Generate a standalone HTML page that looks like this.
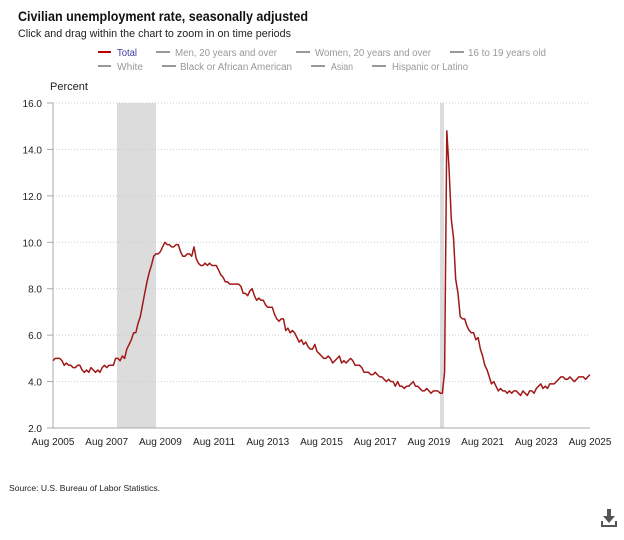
<!DOCTYPE html>
<html><head><meta charset="utf-8"><style>
body{margin:0;background:#fff;font-family:"Liberation Sans",Arial,sans-serif;}
</style></head><body>
<svg width="624" height="535" viewBox="0 0 624 535" xmlns="http://www.w3.org/2000/svg" font-family="Liberation Sans, Arial, sans-serif">
<text x="18" y="21" font-size="14" font-weight="bold" fill="#111" textLength="290" lengthAdjust="spacingAndGlyphs">Civilian unemployment rate, seasonally adjusted</text>
<text x="18" y="37" font-size="11" fill="#222" textLength="273" lengthAdjust="spacingAndGlyphs">Click and drag within the chart to zoom in on time periods</text>
<g font-size="10" fill="#999">
<line x1="98" y1="52" x2="111" y2="52" stroke="#b00" stroke-width="2"/><text x="117" y="56" fill="#3a3aa0" textLength="20" lengthAdjust="spacingAndGlyphs">Total</text>
<line x1="156" y1="52" x2="170" y2="52" stroke="#999" stroke-width="2"/><text x="175" y="56" textLength="102" lengthAdjust="spacingAndGlyphs">Men, 20 years and over</text>
<line x1="296" y1="52" x2="310" y2="52" stroke="#999" stroke-width="2"/><text x="315" y="56" textLength="116" lengthAdjust="spacingAndGlyphs">Women, 20 years and over</text>
<line x1="450" y1="52" x2="464" y2="52" stroke="#999" stroke-width="2"/><text x="468" y="56" textLength="78" lengthAdjust="spacingAndGlyphs">16 to 19 years old</text>
<line x1="98" y1="66" x2="111" y2="66" stroke="#999" stroke-width="2"/><text x="117" y="70" textLength="26" lengthAdjust="spacingAndGlyphs">White</text>
<line x1="162" y1="66" x2="176" y2="66" stroke="#999" stroke-width="2"/><text x="180" y="70" textLength="112" lengthAdjust="spacingAndGlyphs">Black or African American</text>
<line x1="311" y1="66" x2="325" y2="66" stroke="#999" stroke-width="2"/><text x="331" y="70" textLength="22" lengthAdjust="spacingAndGlyphs">Asian</text>
<line x1="372" y1="66" x2="386" y2="66" stroke="#999" stroke-width="2"/><text x="392" y="70" textLength="76" lengthAdjust="spacingAndGlyphs">Hispanic or Latino</text>
</g>
<text x="50" y="90" font-size="11" fill="#222">Percent</text>
<rect x="117" y="103" width="39" height="325" fill="#dcdcdc"/>
<rect x="440" y="103" width="4" height="325" fill="#dcdcdc"/>
<g id="grid" stroke="#ccc" stroke-dasharray="1,2"></g>
<g id="ylab" font-size="10" fill="#222" text-anchor="end"></g>
<line x1="53" y1="103" x2="53" y2="428" stroke="#aaa"/>
<line x1="53" y1="428" x2="590" y2="428" stroke="#aaa"/>
<g id="xlab" font-size="10" fill="#222" text-anchor="middle"></g>
<polyline id="ln" fill="none" stroke="#a01818" stroke-width="1.5" stroke-linejoin="round"/>
<text x="9" y="491" font-size="8" fill="#222" textLength="151" lengthAdjust="spacingAndGlyphs">Source: U.S. Bureau of Labor Statistics.</text>
<g fill="#555"><rect x="607" y="509" width="4" height="8"/><polygon points="603,516 615,516 609,523"/><rect x="601" y="525" width="16" height="2"/><rect x="601" y="521" width="2" height="5"/><rect x="615" y="521" width="2" height="5"/></g>
</svg>
<script>
var d=[4.9,5.0,5.0,5.0,4.9,
4.7,4.8,4.7,4.7,4.6,4.6,4.7,4.7,4.5,4.4,4.5,4.4,
4.6,4.5,4.4,4.5,4.4,4.6,4.7,4.6,4.7,4.7,4.7,5.0,
5.0,4.9,5.1,5.0,5.4,5.6,5.8,6.1,6.1,6.5,6.8,7.3,
7.8,8.3,8.7,9.0,9.4,9.5,9.5,9.6,9.8,10.0,9.9,9.9,
9.8,9.8,9.9,9.9,9.6,9.4,9.4,9.5,9.5,9.4,9.8,9.3,
9.1,9.0,9.0,9.1,9.0,9.1,9.0,9.0,9.0,8.8,8.6,8.5,
8.3,8.3,8.2,8.2,8.2,8.2,8.2,8.1,7.8,7.8,7.7,7.9,
8.0,7.7,7.5,7.6,7.5,7.5,7.3,7.2,7.2,7.2,6.9,6.7,
6.6,6.7,6.7,6.2,6.3,6.1,6.2,6.1,5.9,5.7,5.8,5.6,
5.7,5.5,5.4,5.4,5.6,5.3,5.2,5.1,5.0,5.0,5.1,5.0,
4.8,4.9,5.0,5.1,4.8,4.9,4.8,4.9,5.0,4.9,4.7,4.7,
4.7,4.6,4.4,4.4,4.4,4.3,4.3,4.4,4.3,4.2,4.2,4.1,
4.0,4.1,4.0,4.0,3.8,4.0,3.8,3.8,3.7,3.8,3.8,3.9,
4.0,3.8,3.8,3.7,3.6,3.6,3.7,3.6,3.5,3.6,3.6,3.6,
3.5,3.5,4.4,14.8,13.2,11.0,10.2,8.4,7.8,6.8,6.7,6.7,
6.4,6.2,6.1,6.1,5.8,5.9,5.4,5.1,4.7,4.5,4.2,3.9,
4.0,3.8,3.6,3.7,3.6,3.6,3.5,3.6,3.5,3.6,3.6,3.5,
3.4,3.6,3.5,3.4,3.6,3.6,3.5,3.7,3.8,3.9,3.7,3.8,
3.7,3.9,3.9,3.9,4.0,4.1,4.2,4.2,4.1,4.1,4.2,4.1,
4.0,4.1,4.2,4.2,4.2,4.1,4.2,4.3];
function X(i){return 53+i*(537/240);}
function Y(v){return 428-(v-2)*(325/14);}
var p=d.map(function(v,i){return X(i).toFixed(1)+","+Y(v).toFixed(1)}).join(" ");
document.getElementById("ln").setAttribute("points",p);
var ns="http://www.w3.org/2000/svg",g=document.getElementById("grid"),yl=document.getElementById("ylab"),xl=document.getElementById("xlab");
for(var v=2;v<=16;v+=2){var y=Y(v);
if(v>2){var l=document.createElementNS(ns,"line");l.setAttribute("x1",53);l.setAttribute("x2",590);l.setAttribute("y1",y);l.setAttribute("y2",y);g.appendChild(l);}
var t=document.createElementNS(ns,"line");t.setAttribute("x1",47);t.setAttribute("x2",53);t.setAttribute("y1",y);t.setAttribute("y2",y);t.setAttribute("stroke","#aaa");g.parentNode.appendChild(t);
var tx=document.createElementNS(ns,"text");tx.setAttribute("x",42);tx.setAttribute("y",y+4);tx.textContent=v.toFixed(1);yl.appendChild(tx);}
for(var k=0;k<=10;k++){var tx=document.createElementNS(ns,"text");tx.setAttribute("x",X(k*24));tx.setAttribute("y",445);tx.textContent="Aug "+(2005+2*k);xl.appendChild(tx);}
</script>
</body></html>
